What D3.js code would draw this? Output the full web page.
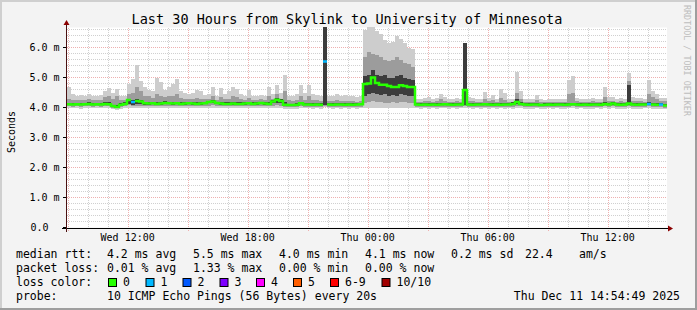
<!DOCTYPE html>
<html>
<head>
<meta charset="utf-8">
<script src="https://cdn.jsdelivr.net/npm/d3@7"></script>
<style>
  body { margin: 0; background: #f3f3f3; }
  svg text { font-family: "DejaVu Sans Mono", monospace; white-space: pre; fill: #000; }
</style>
</head>
<body>
<div id="chart"></div>
<script>
// size of the picture and of the plot area
const width = 697;
const height = 310;
const plot = {left: 67, right: 667, top: 27.5, bottom: 227.5};

const title = "Last 30 Hours from Skylink to University of Minnesota";
const startTime = new Date(2025, 11, 10, 8, 58);
const endTime = new Date(2025, 11, 11, 14, 58);
const stepMinutes = 12;
const yMax = 6.6667;

// median rtt per 12 min step (ms)
const median = [
  4.11,4.10,4.11,4.10,4.11,4.12,4.10,4.11,4.10,4.12,
  4.11,4.05,4.02,4.09,4.12,4.25,4.18,4.22,4.20,4.14,
  4.13,4.14,4.12,4.13,4.15,4.14,4.13,4.14,4.12,4.13,
  4.14,4.13,4.12,4.13,4.14,4.18,4.20,4.15,4.13,4.12,
  4.12,4.13,4.12,4.12,4.13,4.14,4.12,4.13,4.15,4.13,
  4.12,4.20,4.26,4.22,4.09,4.08,4.08,4.09,4.14,4.10,
  4.10,4.09,4.10,4.09,5.53,4.10,4.09,4.10,4.10,4.09,
  4.10,4.09,4.10,4.11,4.78,4.80,5.00,4.82,4.76,4.76,
  4.72,4.68,4.68,4.74,4.72,4.68,4.68,4.10,4.09,4.10,
  4.09,4.10,4.09,4.10,4.11,4.10,4.09,4.10,4.10,4.58,
  4.10,4.09,4.10,4.10,4.11,4.10,4.09,4.10,4.09,4.10,
  4.10,4.12,4.18,4.12,4.10,4.09,4.10,4.10,4.08,4.09,
  4.10,4.09,4.10,4.10,4.09,4.10,4.11,4.10,4.09,4.10,
  4.09,4.10,4.10,4.09,4.12,4.10,4.13,4.10,4.09,4.10,
  4.13,4.10,4.09,4.10,4.10,4.12,4.10,4.09,4.10,4.07
];

// smoke: fastest and slowest ping of each step
const pingMin = [
  3.98,3.97,3.98,3.96,3.98,3.97,3.98,3.97,3.98,3.98,
  3.97,3.94,3.93,3.96,3.98,4.00,3.98,3.99,3.98,3.97,
  3.98,3.99,3.98,3.97,3.98,3.99,3.98,3.98,3.97,3.98,
  3.98,3.97,3.98,3.98,3.97,3.99,4.00,3.98,3.97,3.98,
  3.97,3.98,3.97,3.98,3.98,3.97,3.98,3.97,3.98,3.98,
  3.97,3.99,4.00,3.99,3.96,3.95,3.96,3.96,3.98,3.97,
  3.97,3.96,3.97,3.96,4.02,3.97,3.96,3.97,3.96,3.97,
  3.96,3.97,3.96,3.97,4.00,3.98,4.00,3.99,4.00,3.98,
  3.99,4.00,3.98,4.00,3.99,3.98,4.00,3.97,3.96,3.97,
  3.96,3.97,3.96,3.97,3.97,3.96,3.97,3.96,3.97,4.00,
  3.97,3.96,3.97,3.96,3.97,3.96,3.97,3.96,3.97,3.96,
  3.97,3.96,3.99,3.97,3.96,3.95,3.96,3.97,3.95,3.96,
  3.97,3.96,3.97,3.96,3.95,3.97,3.98,3.96,3.97,3.96,
  3.95,3.96,3.97,3.96,3.97,3.96,3.97,3.96,3.95,3.96,
  3.99,3.96,3.95,3.96,3.97,3.98,3.96,3.95,3.96,3.94
];
const pingMax = [
  4.68,4.45,4.40,4.42,4.38,4.45,4.40,4.38,4.42,4.55,
  4.65,4.50,4.62,4.40,4.38,4.80,4.95,5.42,4.90,4.70,
  4.60,4.55,5.00,4.85,4.60,4.70,4.80,4.95,4.55,4.50,
  4.45,4.50,4.60,4.55,4.42,4.45,4.69,4.40,4.64,4.45,
  4.55,4.69,4.62,4.45,4.40,4.58,4.40,4.38,4.42,4.40,
  4.69,4.45,4.75,4.48,5.08,4.40,4.38,4.45,4.75,4.50,
  4.75,4.45,4.42,4.40,6.67,4.40,4.38,4.45,4.40,4.42,
  4.38,4.40,4.36,4.40,6.60,6.67,6.67,6.55,6.45,6.25,
  6.15,6.20,6.40,6.30,6.15,6.00,5.95,4.30,4.28,4.32,
  4.35,4.30,4.33,4.46,4.35,4.30,4.28,4.32,4.30,6.15,
  4.35,4.32,4.30,4.28,4.53,4.32,4.42,4.30,4.61,4.47,
  4.30,4.28,5.19,4.55,4.30,4.28,4.30,4.42,4.28,4.26,
  4.28,4.30,4.27,4.28,4.30,4.92,5.05,4.32,4.30,4.28,
  4.30,4.32,4.28,4.30,4.69,4.35,4.35,4.30,4.32,4.30,
  5.14,4.35,4.32,4.33,4.30,4.92,4.55,4.45,4.33,4.32
];
// smoke: 2nd fastest / 2nd slowest band
const pingLow = [
  4.04,4.03,4.04,4.03,4.04,4.04,4.03,4.04,4.03,4.05,
  4.04,4.00,3.98,4.02,4.04,4.08,4.06,4.06,4.05,4.05,
  4.05,4.05,4.04,4.05,4.05,4.05,4.04,4.05,4.04,4.05,
  4.05,4.04,4.04,4.05,4.05,4.06,4.07,4.05,4.04,4.04,
  4.04,4.05,4.04,4.04,4.05,4.05,4.04,4.05,4.05,4.05,
  4.04,4.06,4.08,4.06,4.02,4.01,4.02,4.02,4.05,4.03,
  4.03,4.02,4.03,4.02,4.06,4.03,4.02,4.03,4.03,4.02,
  4.03,4.02,4.03,4.03,4.15,4.20,4.22,4.18,4.20,4.16,
  4.15,4.18,4.14,4.20,4.17,4.15,4.14,4.03,4.02,4.03,
  4.02,4.03,4.02,4.03,4.03,4.02,4.02,4.03,4.03,4.06,
  4.03,4.02,4.03,4.02,4.03,4.02,4.03,4.02,4.03,4.02,
  4.03,4.02,4.06,4.04,4.02,4.01,4.02,4.03,4.01,4.02,
  4.03,4.02,4.03,4.02,4.01,4.03,4.04,4.02,4.03,4.02,
  4.01,4.02,4.03,4.02,4.04,4.02,4.04,4.02,4.01,4.02,
  4.05,4.02,4.01,4.02,4.03,4.04,4.02,4.01,4.02,4.00
];
const pingHigh = [
  4.28,4.25,4.24,4.26,4.25,4.27,4.24,4.25,4.26,4.35,
  4.40,4.30,4.38,4.26,4.25,4.45,4.50,4.70,4.55,4.40,
  4.38,4.32,4.45,4.40,4.35,4.40,4.38,4.45,4.32,4.30,
  4.28,4.30,4.32,4.30,4.27,4.28,4.38,4.26,4.35,4.27,
  4.30,4.38,4.34,4.28,4.26,4.32,4.26,4.25,4.27,4.26,
  4.38,4.30,4.45,4.30,4.55,4.24,4.22,4.25,4.40,4.26,
  4.40,4.25,4.24,4.23,6.67,4.22,4.21,4.24,4.22,4.23,
  4.21,4.22,4.20,4.22,5.70,5.85,5.80,5.75,5.70,5.60,
  5.55,5.60,5.70,5.60,5.50,5.45,5.35,4.20,4.19,4.21,
  4.22,4.20,4.21,4.28,4.22,4.20,4.19,4.21,4.20,6.15,
  4.22,4.21,4.20,4.19,4.30,4.21,4.25,4.20,4.32,4.26,
  4.20,4.19,4.50,4.30,4.20,4.19,4.20,4.25,4.19,4.18,
  4.19,4.20,4.18,4.19,4.20,4.45,4.50,4.21,4.20,4.19,
  4.20,4.21,4.19,4.20,4.35,4.22,4.22,4.20,4.21,4.20,
  4.90,4.22,4.21,4.22,4.20,4.45,4.35,4.28,4.22,4.21
];
// smoke: dense core around the median
const coreLow = [
  4.08,4.07,4.08,4.07,4.08,4.09,4.07,4.08,4.07,4.09,
  4.08,4.02,3.99,4.06,4.09,4.12,4.10,4.12,4.12,4.10,
  4.10,4.11,4.09,4.10,4.12,4.11,4.10,4.11,4.09,4.10,
  4.11,4.10,4.09,4.10,4.11,4.14,4.15,4.12,4.10,4.09,
  4.09,4.10,4.09,4.09,4.10,4.11,4.09,4.10,4.12,4.10,
  4.09,4.14,4.16,4.15,4.06,4.05,4.05,4.06,4.11,4.07,
  4.07,4.06,4.07,4.06,4.08,4.07,4.06,4.07,4.07,4.06,
  4.07,4.06,4.07,4.08,4.40,4.45,4.50,4.46,4.42,4.44,
  4.40,4.42,4.38,4.45,4.42,4.40,4.38,4.07,4.06,4.07,
  4.06,4.07,4.06,4.07,4.08,4.07,4.06,4.07,4.07,4.08,
  4.07,4.06,4.07,4.07,4.08,4.07,4.06,4.07,4.06,4.07,
  4.07,4.09,4.12,4.09,4.07,4.06,4.07,4.07,4.05,4.06,
  4.07,4.06,4.07,4.07,4.06,4.07,4.08,4.07,4.06,4.07,
  4.06,4.07,4.07,4.06,4.09,4.07,4.10,4.07,4.06,4.07,
  4.08,4.07,4.06,4.07,4.07,4.09,4.07,4.06,4.07,4.04
];
const coreHigh = [
  4.16,4.15,4.16,4.15,4.16,4.17,4.15,4.16,4.15,4.18,
  4.17,4.10,4.08,4.14,4.17,4.30,4.24,4.30,4.26,4.19,
  4.18,4.19,4.17,4.18,4.21,4.19,4.18,4.20,4.17,4.18,
  4.19,4.18,4.17,4.18,4.19,4.23,4.26,4.20,4.18,4.17,
  4.17,4.19,4.17,4.17,4.18,4.20,4.17,4.18,4.20,4.18,
  4.17,4.25,4.32,4.28,4.20,4.13,4.13,4.14,4.19,4.15,
  4.16,4.14,4.15,4.14,6.67,4.15,4.14,4.15,4.15,4.14,
  4.15,4.14,4.15,4.16,5.05,5.10,5.25,5.10,5.05,5.08,
  5.00,4.98,5.05,5.10,5.00,4.95,4.92,4.15,4.14,4.15,
  4.14,4.15,4.14,4.16,4.16,4.15,4.14,4.15,4.15,6.15,
  4.15,4.14,4.15,4.15,4.16,4.15,4.14,4.15,4.14,4.15,
  4.15,4.17,4.30,4.17,4.15,4.14,4.15,4.15,4.13,4.14,
  4.15,4.14,4.15,4.15,4.14,4.15,4.16,4.15,4.14,4.15,
  4.14,4.15,4.15,4.14,4.17,4.15,4.20,4.15,4.14,4.15,
  4.75,4.15,4.14,4.15,4.15,4.17,4.15,4.14,4.15,4.12
];

// steps that lost pings (index into the arrays above, lost pings)
const lossIndex = [16, 64, 145, 148];
const lossPings = [1, 1, 1, 1];

const lossLabels = ["0", "1", "2", "3", "4", "5", "6-9", "10/10"];
const lossColors = ["#26ff00", "#00b8ff", "#0059ff", "#7e00ff", "#ff00ff", "#ff5e00", "#ff0000", "#a10000"];

const rttStats = ["4.2 ms avg", "5.5 ms max", "4.0 ms min", "4.1 ms now", "0.2 ms sd", "22.4", "am/s"];
const lossStats = ["0.01 % avg", "1.33 % max", "0.00 % min", "0.00 % now"];
const probeText = "10 ICMP Echo Pings (56 Bytes) every 20s";
const stampText = "Thu Dec 11 14:54:49 2025";

const svg = d3.select("#chart")
  .append("svg")
  .attr("width", width)
  .attr("height", height);

// background and plot canvas
svg.append("rect").attr("width", width).attr("height", height).attr("fill", "#f3f3f3");
svg.append("rect")
  .attr("x", plot.left).attr("y", plot.top)
  .attr("width", plot.right - plot.left).attr("height", plot.bottom - plot.top)
  .attr("fill", "#ffffff");

const x = d3.scaleTime().domain([startTime, endTime]).range([plot.left, plot.right]);
const y = d3.scaleLinear().domain([0, yMax]).range([plot.bottom, plot.top]);

const times = d3.range(median.length + 1).map(i => d3.timeMinute.offset(startTime, i * stepMinutes));

// grid (under the smoke)
const grid = svg.append("g").attr("shape-rendering", "crispEdges");
const minorY = y.ticks(34);
const majorY = y.ticks(7);
grid.selectAll(".hminor")
  .data(minorY.filter(v => Math.abs(v - Math.round(v)) > 0.01))
  .enter().append("line")
    .attr("x1", plot.left).attr("x2", plot.right)
    .attr("y1", d => y(d)).attr("y2", d => y(d))
    .attr("stroke", "#d0d0d0").attr("stroke-dasharray", "1,1");
const hourTicks = x.ticks(d3.timeHour.every(1));
grid.selectAll(".vminor")
  .data(hourTicks.filter(t => t.getHours() % 3 !== 0))
  .enter().append("line")
    .attr("x1", d => Math.round(x(d)) + 0.5).attr("x2", d => Math.round(x(d)) + 0.5)
    .attr("y1", plot.top).attr("y2", plot.bottom)
    .attr("stroke", "#d0d0d0").attr("stroke-dasharray", "1,1");
grid.selectAll(".hmajor")
  .data(majorY.filter(v => v > 0))
  .enter().append("line")
    .attr("x1", plot.left).attr("x2", plot.right)
    .attr("y1", d => y(d)).attr("y2", d => y(d))
    .attr("stroke", "#efb0b0").attr("stroke-dasharray", "1,1");
const majorX = x.ticks(d3.timeHour.every(3));
grid.selectAll(".vmajor")
  .data(majorX)
  .enter().append("line")
    .attr("x1", d => Math.round(x(d)) + 0.5).attr("x2", d => Math.round(x(d)) + 0.5)
    .attr("y1", plot.top).attr("y2", plot.bottom + 3)
    .attr("stroke", "#efb0b0").attr("stroke-dasharray", "1,1");

svg.append("clipPath").attr("id", "clip")
  .append("rect")
  .attr("x", plot.left).attr("y", plot.top - 0.5)
  .attr("width", plot.right - plot.left).attr("height", plot.bottom - plot.top + 0.5);

const g = svg.append("g").attr("clip-path", "url(#clip)");

// smoke bands, light to dark
const bands = [
  {lo: pingMin, hi: pingMax, color: "#cdcdcd"},
  {lo: pingLow, hi: pingHigh, color: "#9c9c9c"},
  {lo: coreLow, hi: coreHigh, color: "#3c3c3c"}
];
bands.forEach(b => {
  g.append("g").selectAll("rect")
    .data(median)
    .enter()
    .append("rect")
      .attr("x", (d, i) => x(times[i]))
      .attr("width", (d, i) => x(times[i + 1]) - x(times[i]))
      .attr("y", (d, i) => y(b.hi[i]))
      .attr("height", (d, i) => y(b.lo[i]) - y(b.hi[i]))
      .attr("fill", b.color)
      .attr("shape-rendering", "crispEdges");
});

// median line, coloured by packet loss
const lossAt = i => { const k = lossIndex.indexOf(i); return k < 0 ? 0 : lossPings[k]; };
const lossClass = p => p >= 10 ? 7 : (p >= 6 ? 6 : p);
const runs = [];
median.forEach((m, i) => {
  const c = lossClass(lossAt(i));
  const last = runs[runs.length - 1];
  if (last && last.c === c && last.end === i - 1) { last.pts.push([times[i], m]); last.end = i; }
  else runs.push({c: c, end: i, pts: [[times[i], m]]});
});
runs.forEach(r => r.pts.push([times[r.end + 1], median[r.end]]));
const medianLine = d3.line().x(d => x(d[0])).y(d => y(d[1])).curve(d3.curveStepAfter);
g.selectAll(".median")
  .data(runs)
  .enter().append("path")
    .attr("d", d => medianLine(d.pts))
    .attr("fill", "none")
    .attr("stroke", d => lossColors[d.c])
    .attr("stroke-width", 2.5);

// axes
svg.append("line")
  .attr("x1", 62).attr("x2", 669).attr("y1", 228.5).attr("y2", 228.5)
  .attr("stroke", "#000").attr("shape-rendering", "crispEdges");
svg.append("line")
  .attr("x1", 66.5).attr("x2", 66.5).attr("y1", 232).attr("y2", 25)
  .attr("stroke", "#4a1010").attr("shape-rendering", "crispEdges");
svg.append("path").attr("d", "M668,225.5 L673,228.5 L668,231.5 Z").attr("fill", "#8b0000");
svg.append("path").attr("d", "M63.5,25 L66.5,20 L69.5,25 Z").attr("fill", "#8b0000");
svg.selectAll(".ytick")
  .data(majorY)
  .enter().append("line")
    .attr("x1", 63).attr("x2", 66).attr("y1", d => y(d)).attr("y2", d => y(d))
    .attr("stroke", "#000").attr("shape-rendering", "crispEdges");

// tick labels
svg.selectAll(".ylab")
  .data(majorY)
  .enter().append("text")
    .attr("x", d => d === 0 ? 48.5 : 59.5)
    .attr("y", d => y(d) + 3.5)
    .attr("text-anchor", "end")
    .attr("font-size", "10px")
    .text(d => d === 0 ? "0.0" : d3.format(".1f")(d) + " m");
const fmtTime = d3.timeFormat("%a %H:%M");
svg.selectAll(".xlab")
  .data(x.ticks(d3.timeHour.every(6)))
  .enter().append("text")
    .attr("x", d => x(d))
    .attr("y", 240.5)
    .attr("text-anchor", "middle")
    .attr("font-size", "10px")
    .text(d => fmtTime(d));

// title and axis name
svg.append("text")
  .attr("x", 347).attr("y", 23.5)
  .attr("text-anchor", "middle")
  .attr("font-size", "13.5px")
  .text(title);
svg.append("text")
  .attr("transform", "translate(15,132) rotate(-90)")
  .attr("text-anchor", "middle")
  .attr("font-size", "10px")
  .text("Seconds");
svg.append("text")
  .attr("transform", "translate(684,5) rotate(90)")
  .attr("font-size", "8.4px")
  .style("fill", "#bdbdbd")
  .text("RRDTOOL / TOBI OETIKER");

// legend
const legend = svg.append("g").attr("font-size", "11.5px");
const rowY = [258, 272, 286, 300];
legend.append("text").attr("x", 16).attr("y", rowY[0]).text("median rtt:");
legend.append("text").attr("x", 16).attr("y", rowY[1]).text("packet loss:");
legend.append("text").attr("x", 16).attr("y", rowY[2]).text("loss color:");
legend.append("text").attr("x", 16).attr("y", rowY[3]).text("probe:");

const rttX = [107, 193, 279, 365, 451, 525, 579];
legend.selectAll(".rtt")
  .data(rttStats)
  .enter().append("text")
    .attr("x", (d, i) => rttX[i]).attr("y", rowY[0]).text(d => d);
legend.selectAll(".loss")
  .data(lossStats)
  .enter().append("text")
    .attr("x", (d, i) => rttX[i]).attr("y", rowY[1]).text(d => d);

const boxX = [108, 145.5, 182.5, 219.5, 256, 293, 330, 381.5];
const swatch = legend.selectAll(".swatch")
  .data(lossLabels)
  .enter().append("g");
swatch.append("rect")
  .attr("x", (d, i) => boxX[i] + 0.5).attr("y", 278.5)
  .attr("width", 8).attr("height", 8)
  .attr("fill", (d, i) => lossColors[i])
  .attr("stroke", "#000").attr("stroke-width", 1);
swatch.append("text")
  .attr("x", (d, i) => boxX[i] + 15).attr("y", rowY[2])
  .text(d => d);

legend.append("text").attr("x", 107).attr("y", rowY[3]).text(probeText);
legend.append("text").attr("x", 680).attr("y", rowY[3]).attr("text-anchor", "end").text(stampText);

// 3d border
svg.append("path").attr("d", `M1,${height} L1,1 L${width},1`).attr("fill", "none")
  .attr("stroke", "#cfcfcf").attr("stroke-width", 2);
svg.append("path").attr("d", `M0,${height - 1} L${width - 1},${height - 1} L${width - 1},0`).attr("fill", "none")
  .attr("stroke", "#9e9e9e").attr("stroke-width", 2);
</script>
</body>
</html>
